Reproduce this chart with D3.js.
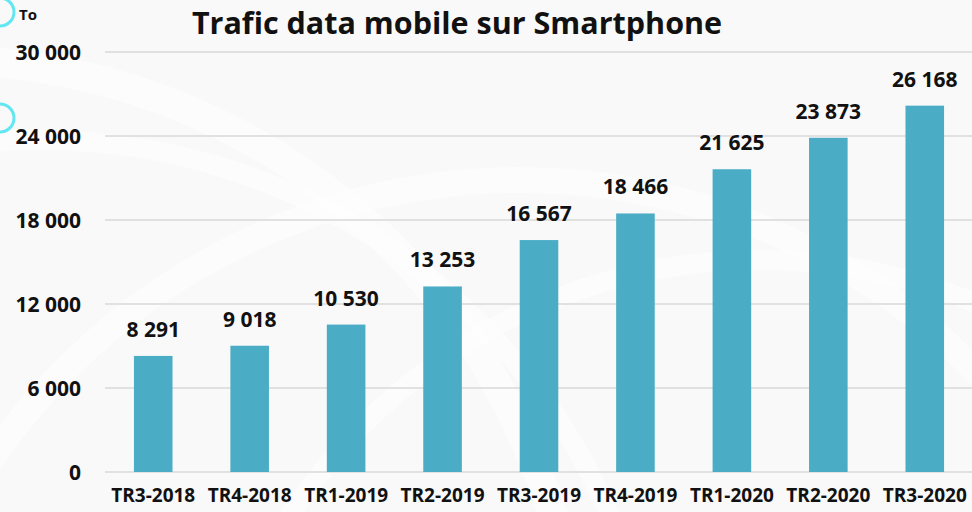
<!DOCTYPE html>
<html>
<head>
<meta charset="utf-8">
<script src="https://cdn.jsdelivr.net/npm/d3@7"></script>
<style>
  html, body { margin: 0; padding: 0; background: #fafafa; }
  svg { display: block; font-family: "Open Sans", Lato, sans-serif; font-weight: 700; font-variant-ligatures: none; }
</style>
</head>
<body>
<svg id="chart" width="972" height="512"></svg>
<script>
// Quarterly smartphone mobile data traffic (terabytes)
const categories = ["TR3-2018", "TR4-2018", "TR1-2019", "TR2-2019", "TR3-2019",
                    "TR4-2019", "TR1-2020", "TR2-2020", "TR3-2020"];
const traffic = [8291, 9018, 10530, 13253, 16567, 18466, 21625, 23873, 26168];
const yTicks = [0, 6000, 12000, 18000, 24000, 30000];
const titleText = "Trafic data mobile sur Smartphone";
const unitText = "To";

const svg = d3.select("#chart");
const W = 972, H = 512;
const margin = { left: 105, right: -1 };
const FONT = "'Open Sans', Lato, sans-serif";

// Background with faint decorative sweeps
svg.append("rect").attr("width", W).attr("height", H).attr("fill", "#f9f9f9");
const deco = svg.append("g").attr("fill", "none").attr("stroke", "#ffffff").attr("stroke-opacity", 0.45);
[[-60, 700, 640, 30], [40, 760, 620, 20], [520, 820, 640, 26], [760, 820, 560, 20]].forEach(([cx, cy, r, w]) => {
  deco.append("circle").attr("cx", cx).attr("cy", cy).attr("r", r).attr("stroke-width", w);
});

// Cyan ring accents on the left edge
const rings = svg.append("g").attr("fill", "none").attr("stroke", "#62e6f2").attr("stroke-width", 3);
rings.append("circle").attr("cx", 0).attr("cy", 12).attr("r", 14);
rings.append("circle").attr("cx", 0).attr("cy", 118).attr("r", 14);

const x = d3.scaleBand().domain(categories).range([margin.left, W - margin.right]).padding(0);
const y = d3.scaleLinear().domain([0, 30000]).range([472, 52]);
const fmt = v => d3.format(",")(v).replace(/,/g, " ");

// Horizontal gridlines
svg.append("g")
  .selectAll("line").data(yTicks).join("line")
  .attr("x1", margin.left).attr("x2", W)
  .attr("y1", d => y(d)).attr("y2", d => y(d))
  .attr("stroke", "#d9d9d9").attr("stroke-width", 1.5);

// Y axis labels
const yAxis = svg.append("g")
  .attr("transform", "translate(81,0)")
  .call(d3.axisLeft(y).tickValues(yTicks).tickSize(0).tickPadding(0).tickFormat(fmt));
yAxis.select(".domain").remove();
yAxis.selectAll("text")
  .attr("font-family", FONT).attr("font-weight", 700)
  .attr("font-size", 21).attr("fill", "#111").attr("dy", "0.36em");

// X axis labels
const xAxis = svg.append("g")
  .attr("transform", "translate(0,485)")
  .call(d3.axisBottom(x).tickSize(0).tickPadding(0));
xAxis.select(".domain").remove();
xAxis.selectAll("text")
  .attr("font-family", FONT).attr("font-weight", 700)
  .attr("font-size", 19).attr("fill", "#111").attr("dy", "0.9em");

// Bars
const barW = x.bandwidth() * 0.4;
svg.append("g")
  .selectAll("rect").data(traffic).join("rect")
  .attr("x", (d, i) => x(categories[i]) + (x.bandwidth() - barW) / 2)
  .attr("width", barW)
  .attr("y", d => y(d))
  .attr("height", d => y(0) - y(d))
  .attr("fill", "#4bacc6");

// Value labels
svg.append("g")
  .selectAll("text").data(traffic).join("text")
  .attr("x", (d, i) => x(categories[i]) + x.bandwidth() / 2)
  .attr("y", d => y(d) - 19)
  .attr("text-anchor", "middle")
  .attr("font-size", 21).attr("fill", "#111")
  .text(fmt);

// Title and unit
svg.append("text").attr("x", 457).attr("y", 34).attr("text-anchor", "middle")
  .attr("font-size", 30.5).attr("fill", "#111").text(titleText);
svg.append("text").attr("x", 19).attr("y", 20)
  .attr("font-size", 15).attr("fill", "#111").text(unitText);
</script>
</body>
</html>
